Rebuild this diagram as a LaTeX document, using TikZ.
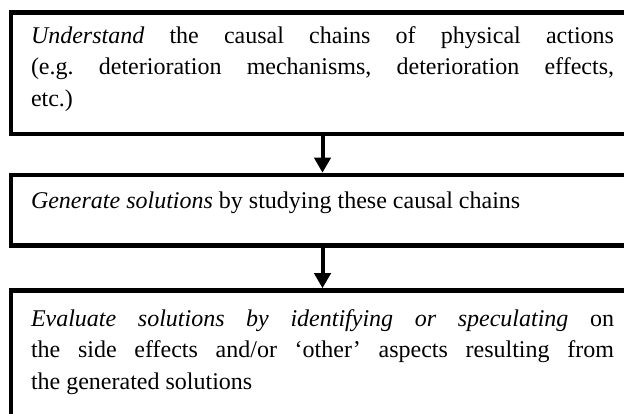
\documentclass[tikz,border=0pt]{standalone}
\usepackage{fontspec}
\setmainfont{Liberation Serif}
\usetikzlibrary{arrows.meta}
\tikzset{
  stagebox/.style={draw, line width=4.5pt, outer sep=0pt, anchor=north west,
    inner xsep=20pt, inner ysep=0pt, text width=583pt, align=justify,
    font=\fontsize{24}{31.5}\selectfont\frenchspacing},
  flowarrow/.style={line width=4pt, -{Triangle[width=16pt,length=15pt]}, shorten >=2.25pt}
}
\begin{document}
\begin{tikzpicture}[x=1pt,y=-1pt]
\useasboundingbox (0,0) rectangle (624,414);
\clip (0,0) rectangle (624,414);
% The stages
\node[stagebox, text height=31pt, text depth=90.5pt] (understand) at (11,12.5)
  {\textit{Understand} the causal chains of physical actions\linebreak
   (e.g. deterioration mechanisms, deterioration effects,\linebreak etc.)};
\node[stagebox, text height=34pt, text depth=36.5pt] (generate) at (11,175)
  {\textit{Generate solutions} by studying these causal chains};
\node[stagebox, text height=35.5pt, text depth=120pt] (evaluate) at (11,290.5)
  {\textit{Evaluate solutions by identifying or speculating} on\linebreak
   the side effects and/or `other' aspects resulting from\linebreak
   the generated solutions};
% The arrows
\draw[flowarrow] (understand.south) -- (generate.north);
\draw[flowarrow] (generate.south) -- (evaluate.north);
\end{tikzpicture}
\end{document}
